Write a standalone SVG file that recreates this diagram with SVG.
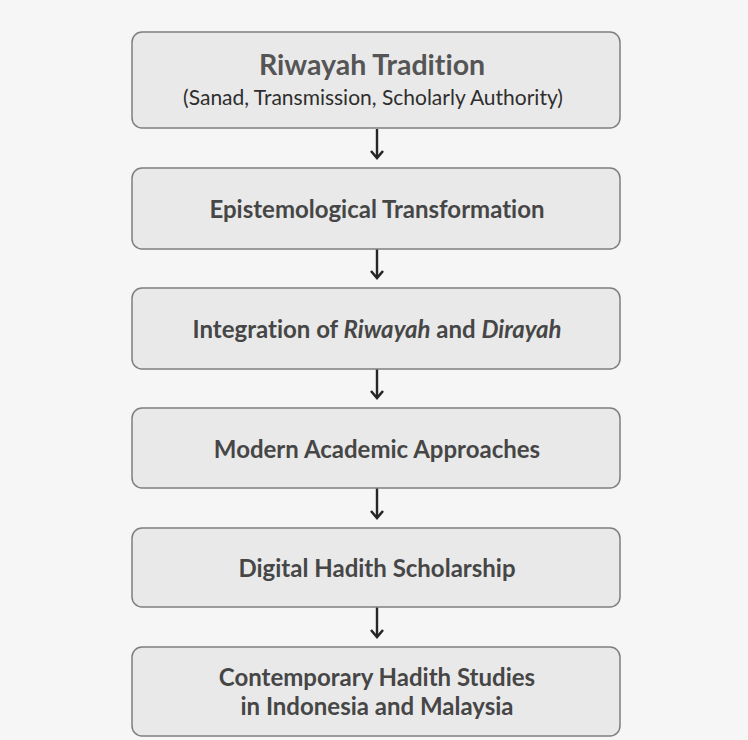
<svg xmlns="http://www.w3.org/2000/svg" width="748" height="740" viewBox="0 0 748 740">
<style>
text{font-variant-ligatures:none}
.box{fill:#e9e9e9;stroke:#7f7f7f;stroke-width:1.5}
.t{font-family:Lato,"Open Sans","Liberation Sans",sans-serif;font-weight:bold;font-size:24px;fill:#464646;text-anchor:middle}
.sub{font-family:Lato,"Open Sans","Liberation Sans",sans-serif;font-size:21px;fill:#2e2e2e;text-anchor:middle}
.c{stroke:#262626;stroke-width:2.4;fill:none}
</style>
<defs>
<marker id="ah" viewBox="0 0 10 14" refX="8" refY="7" markerWidth="10" markerHeight="14" markerUnits="userSpaceOnUse" orient="auto">
<path d="M1,1 L8,7 L1,13" fill="none" stroke="#262626" stroke-width="2.6"/>
</marker>
</defs>
<rect width="748" height="740" fill="#f6f6f6"/>
<g id="connectors">
<line class="c" x1="377" y1="129" x2="377" y2="158" marker-end="url(#ah)"/>
<line class="c" x1="377" y1="249" x2="377" y2="278" marker-end="url(#ah)"/>
<line class="c" x1="377" y1="369" x2="377" y2="398" marker-end="url(#ah)"/>
<line class="c" x1="377" y1="488" x2="377" y2="518" marker-end="url(#ah)"/>
<line class="c" x1="377" y1="607" x2="377" y2="637" marker-end="url(#ah)"/>
</g>
<g id="n1">
<rect class="box" x="132" y="32" width="488" height="96" rx="10"/>
<text class="t" x="372" y="75" style="font-size:28.5px;fill:#555">Riwayah Tradition</text>
<text class="sub" x="373" y="105">(Sanad, Transmission, Scholarly Authority)</text>
</g>
<g id="n2">
<rect class="box" x="132" y="168" width="488" height="81" rx="10"/>
<text class="t" x="377" y="218">Epistemological Transformation</text>
</g>
<g id="n3">
<rect class="box" x="132" y="288" width="488" height="81" rx="10"/>
<text class="t" x="377" y="338">Integration of <tspan font-style="italic">Riwayah</tspan> and <tspan font-style="italic">Dirayah</tspan></text>
</g>
<g id="n4">
<rect class="box" x="132" y="408" width="488" height="80" rx="10"/>
<text class="t" x="377" y="458">Modern Academic Approaches</text>
</g>
<g id="n5">
<rect class="box" x="132" y="528" width="488" height="79" rx="10"/>
<text class="t" x="377" y="577">Digital Hadith Scholarship</text>
</g>
<g id="n6">
<rect class="box" x="132" y="647" width="488" height="89" rx="10"/>
<text class="t" x="377" y="686">Contemporary Hadith Studies</text>
<text class="t" x="377" y="715">in Indonesia and Malaysia</text>
</g>
</svg>
